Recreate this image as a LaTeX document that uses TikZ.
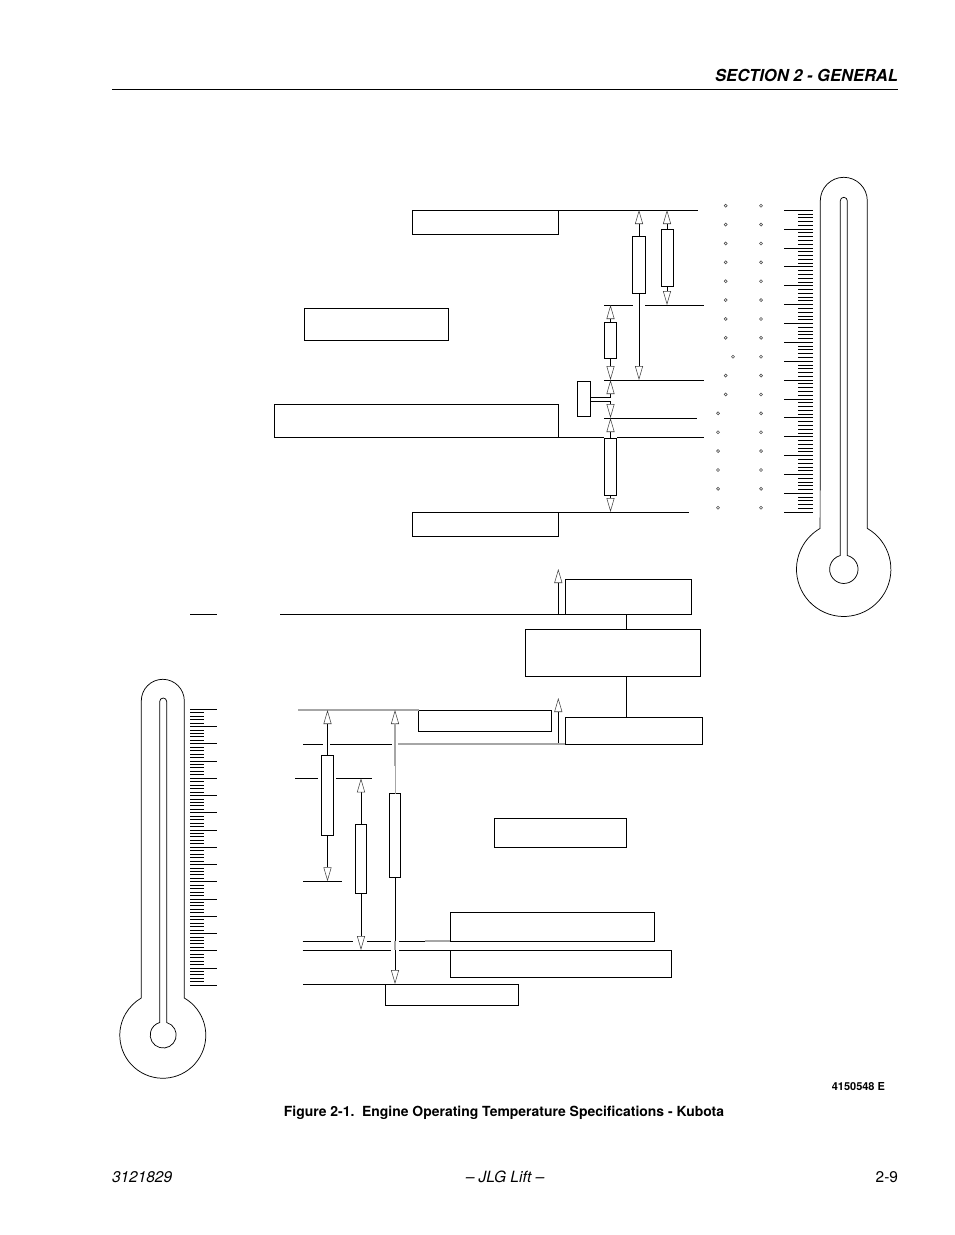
\documentclass[tikz,border=0pt]{standalone}
\usepackage{fontspec}
\setmainfont{TeX Gyre Heros}
\usetikzlibrary{arrows.meta}

\definecolor{faded}{gray}{0.65}

\begin{document}
\begin{tikzpicture}[
        x=0.75pt, y=-0.75pt,
        every node/.style={inner sep=0pt, outer sep=0pt},
        frameBox/.style 2 args={draw, rectangle, line width=0.75pt, minimum width=#1*0.75pt, minimum height=#2*0.75pt},
        rule/.style={line width=0.75pt},
        fadedRule/.style={line width=0.9pt, draw=faded},
        thermo/.style={line width=0.55pt},
        tick/.style={line width=0.75pt},
        degree/.style={draw=black!70, line width=0.45pt},
        dimArrow/.style={line width=0.75pt, -{Triangle[open, fill=white, length=10.5pt, width=6pt, line width=0.4pt, color=black!75]}}
        ]
        \useasboundingbox (0,0) rectangle (954,1235);

        % page header and footer
        \node[anchor=base east, font=\fontsize{12.4pt}{15pt}\bfseries\itshape] (headTitle) at (898,81) {SECTION 2 - GENERAL};
        \coordinate (headLeft) at (112,89.5);
        \coordinate (headRight) at (898,89.5);
        \draw[line width=1pt] (headLeft) -- (headRight);
        \node[anchor=base, font=\fontsize{10.45pt}{12pt}\bfseries] (figCaption) at (504,1116) {Figure 2-1.\ \ Engine Operating Temperature Specifications - Kubota};
        \node[anchor=base east, font=\fontsize{8.25pt}{10pt}\bfseries] (figNumber) at (885,1090) {4150548 E};
        \node[anchor=base west, font=\fontsize{11.6pt}{14pt}\itshape] (footPart) at (112,1182.5) {3121829};
        \node[anchor=base, font=\fontsize{11.6pt}{14pt}\itshape] (footMaker) at (505,1182.5) {-- JLG Lift --};
        \node[anchor=base east, font=\fontsize{11.6pt}{14pt}\selectfont] (footPage) at (898,1182.5) {2-9};

        % upper label boxes
        \node[frameBox={146}{24}] (boxA) at (485,222) {};
        \node[frameBox={144}{32}] (boxB) at (376,324) {};
        \node[frameBox={284}{33}] (boxC) at (416,420.5) {};
        \node[frameBox={146}{24}] (boxD) at (485,524) {};
        \node[frameBox={126}{35}] (boxE) at (628,596.5) {};
        \node[frameBox={175}{47}] (boxF) at (612.5,652.5) {};
        \node[frameBox={137}{27}] (boxG) at (633.5,730.5) {};

        % lower label boxes
        \node[frameBox={133}{21}] (boxH) at (485,720.5) {};
        \node[frameBox={132}{29}] (boxI) at (560,832.5) {};
        \node[frameBox={204}{29}] (boxJ) at (552,926.5) {};
        \node[frameBox={221}{27}] (boxK) at (560.5,963.5) {};
        \node[frameBox={133}{21}] (boxL) at (451.5,994.5) {};

        % upper range bars
        \node[frameBox={13}{57}] (barA) at (639,264.5) {};
        \node[frameBox={12}{57}] (barB) at (667,257.5) {};
        \node[frameBox={12.5}{36}] (barC) at (610.5,340) {};
        \node[frameBox={12.5}{57.5}] (barD) at (610.5,466.75) {};
        \node[frameBox={13}{35}] (barE) at (583.8,398.5) {};

        % lower range bars
        \node[frameBox={12.4}{80}] (barF) at (327.5,795.3) {};
        \node[frameBox={11}{69}] (barG) at (361,858.8) {};
        \node[frameBox={11.4}{83.3}] (barH) at (395,835.6) {};

        % levels of the upper scale
        \coordinate (levelA) at (698,210);
        \coordinate (levelB) at (604,305);
        \coordinate (levelBgap) at (633,305);
        \coordinate (levelBrest) at (645,305);
        \coordinate (levelBend) at (703.7,305);
        \coordinate (levelC) at (604,380);
        \coordinate (levelCend) at (703.7,380);
        \coordinate (levelD) at (604,418);
        \coordinate (levelDend) at (697,418);
        \coordinate (levelE) at (604,437);
        \coordinate (levelErest) at (617,437);
        \coordinate (levelEend) at (703.7,437);
        \coordinate (levelF) at (688.7,512);
        \draw[rule] (boxA.north east) -- (levelA);
        \draw[rule] (levelB) -- (levelBgap);
        \draw[rule] (levelBrest) -- (levelBend);
        \draw[rule] (levelC) -- (levelCend);
        \draw[rule] (levelD) -- (levelDend);
        \draw[rule] (boxC.south east) -- (levelE);
        \draw[rule] (levelErest) -- (levelEend);
        \draw[rule] (boxD.north east) -- (levelF);

        % upper range arrows
        \draw[dimArrow] (barA.north) -- (barA.north |- levelA);
        \draw[dimArrow] (barA.south) -- (barA.south |- levelC);
        \draw[dimArrow] (barB.north) -- (barB.north |- levelA);
        \draw[dimArrow] (barB.south) -- (barB.south |- levelB);
        \draw[dimArrow] (barC.north) -- (barC.north |- levelB);
        \draw[dimArrow] (barC.south) -- (barC.south |- levelC);
        \draw[dimArrow] (barD.north) -- (barD.north |- levelD);
        \draw[dimArrow] (barD.south) -- (barD.south |- levelF);

        % the small bar with its two leads
        \coordinate (leadA) at (610.5,397);
        \coordinate (leadB) at (610.5,401.7);
        \draw[rule] (barE.east |- leadA) -- (leadA);
        \draw[rule] (barE.east |- leadB) -- (leadB);
        \draw[dimArrow] (leadA) -- (leadA |- levelC);
        \draw[dimArrow] (leadB) -- (leadB |- levelD);

        % middle stack
        \coordinate (levelG) at (280,614);
        \coordinate (shortLeft) at (190,614);
        \coordinate (shortRight) at (217,614);
        \coordinate (tipE) at (558.3,569);
        \coordinate (tipG) at (558.3,698);
        \coordinate (stackTop) at (626.3,614);
        \draw[rule] (levelG) -- (boxE.south west);
        \draw[rule] (shortLeft) -- (shortRight);
        \draw[rule] (stackTop) -- (stackTop |- boxF.north);
        \draw[rule] (stackTop |- boxF.south) -- (stackTop |- boxG.north);
        \draw[dimArrow] (tipE |- boxE.south) -- (tipE);
        \draw[dimArrow] (tipG |- boxG.south) -- (tipG);

        % levels of the lower scale
        \coordinate (lowA) at (298.3,710);
        \coordinate (lowB) at (303.3,744);
        \coordinate (lowBgap) at (323.3,744);
        \coordinate (lowBmid) at (330,744);
        \coordinate (lowBend) at (391.7,744);
        \coordinate (lowBrest) at (398.3,744);
        \coordinate (lowC) at (295,778.3);
        \coordinate (lowCgap) at (318.3,778.3);
        \coordinate (lowCrest) at (336.3,778.3);
        \coordinate (lowCend) at (371.7,778.3);
        \coordinate (lowD) at (303.3,881.3);
        \coordinate (lowDend) at (341.7,881.3);
        \coordinate (lowE) at (302.7,941);
        \coordinate (lowEgap) at (353.3,941);
        \coordinate (lowEmid) at (367.3,941);
        \coordinate (lowEend) at (391,941);
        \coordinate (lowErest) at (399.3,941);
        \coordinate (lowEfade) at (425,941);
        \coordinate (lowF) at (302.7,950);
        \coordinate (lowFend) at (391,950);
        \coordinate (lowFrest) at (399.3,950);
        \coordinate (lowG) at (303.3,984);
        \draw[fadedRule, line width=1.3pt] (lowA) -- (boxH.north west);
        \draw[rule] (lowB) -- (lowBgap);
        \draw[rule] (lowBmid) -- (lowBend);
        \draw[fadedRule] (lowBrest) -- (boxG.south west);
        \draw[rule] (lowC) -- (lowCgap);
        \draw[rule] (lowCrest) -- (lowCend);
        \draw[rule] (lowD) -- (lowDend);
        \draw[rule] (lowE) -- (lowEgap);
        \draw[rule] (lowEmid) -- (lowEend);
        \draw[rule] (lowErest) -- (lowEfade);
        \draw[fadedRule] (lowEfade) -- (boxJ.south west);
        \draw[rule] (lowF) -- (lowFend);
        \draw[rule] (lowFrest) -- (boxK.north west);
        \draw[rule] (lowG) -- (boxL.north west);

        % lower range arrows
        \coordinate (fadeH) at (395,766);
        \coordinate (baseH) at (395,723);
        \draw[dimArrow] (barF.north) -- (barF.north |- lowA);
        \draw[dimArrow] (barF.south) -- (barF.south |- lowD);
        \draw[dimArrow] (barG.north) -- (barG.north |- lowC);
        \draw[dimArrow] (barG.south) -- (barG.south |- lowF);
        \draw[dimArrow, draw=faded] (barH.north) -- (barH.north |- lowA);
        \draw[fadedRule, line width=1.4pt] (fadeH) -- (baseH);
        \draw[dimArrow] (barH.south) -- (barH.south |- lowG);
        \draw[fadedRule, line width=1.4pt] (barH.north |- lowE) -- (barH.north |- lowF);

        % right thermometer
        \draw[thermo] (820.3,200.8) arc (180:360:23.5) -- (867.3,528.4) arc (-60:240:47.2) -- cycle;
        \draw[thermo] (840.3,200.8) arc (180:360:3.5) -- (847.3,555.5) arc (-75.8:255.8:14.2) -- cycle;
        \foreach \i in {0,...,16} {
            \draw[tick] (784.3,{210.3+18.875*\i}) -- (813,{210.3+18.875*\i});
            \draw[degree] (761,{205.7+18.875*\i}) circle (1.5);
        }
        \foreach \i in {0,...,15} {
            \foreach \j in {1,...,4} {
                \draw[tick] (798.3,{210.3+18.875*(\i+\j/5)}) -- (813,{210.3+18.875*(\i+\j/5)});
            }
        }
        \foreach \i/\xpos in {0/725.7,1/725.7,2/725.7,3/725.7,4/725.7,5/725.7,6/725.7,7/725.7,8/733,9/725.7,10/725.7,11/718,12/718,13/718,14/718,15/718,16/718} {
            \draw[degree] (\xpos,{205.7+18.875*\i}) circle (1.5);
        }

        % left thermometer
        \draw[thermo] (141.3,700.8) arc (180:360:21.5) -- (184.3,998) arc (-60:240:43) -- cycle;
        \draw[thermo] (159.7,701.5) arc (180:360:3.5) -- (166.7,1022.5) arc (-74.4:254.4:13) -- cycle;
        \foreach \i in {0,...,16} {
            \draw[tick] (190.3,{709.3+17.25*\i}) -- (216.7,{709.3+17.25*\i});
        }
        \foreach \i in {0,...,15} {
            \foreach \j in {1,...,4} {
                \draw[tick] (190.3,{709.3+17.25*(\i+\j/5)}) -- (204,{709.3+17.25*(\i+\j/5)});
            }
        }
    \end{tikzpicture}
\end{document}
